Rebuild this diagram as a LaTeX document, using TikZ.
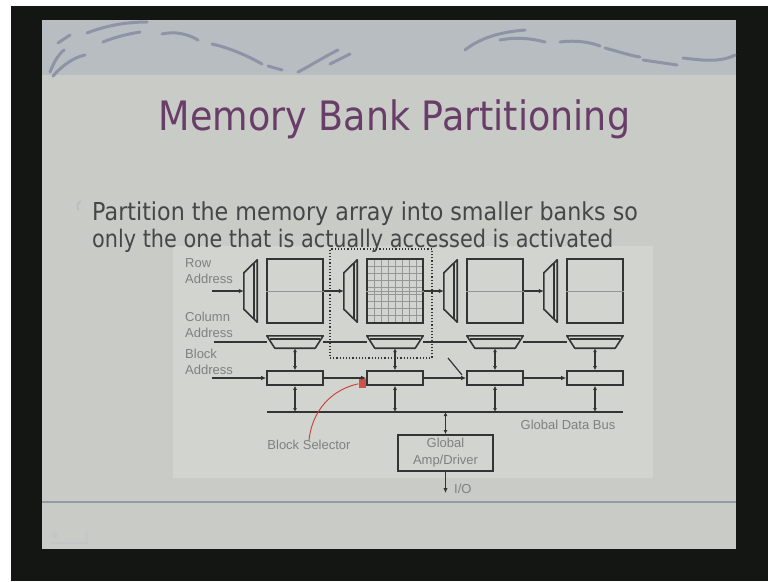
\documentclass[tikz,border=0pt]{standalone}
\usepackage{fontspec}
\setmainfont[FakeStretch=0.9]{DejaVu Sans}
\newfontfamily\narrowbody[FakeStretch=0.86]{DejaVu Sans}
\newfontfamily\labelfont{Liberation Sans}
\usetikzlibrary{arrows.meta, positioning}

\definecolor{framec}{RGB}{20,22,20}
\definecolor{slidec}{RGB}{201,203,199}
\definecolor{headc}{RGB}{184,189,194}
\definecolor{swirlc}{RGB}{142,148,166}
\definecolor{titlec}{RGB}{104,62,104}
\definecolor{bodyc}{RGB}{70,70,70}
\definecolor{linec}{RGB}{52,52,52}
\definecolor{labelc}{RGB}{128,128,128}
\definecolor{panelc}{RGB}{210,212,208}
\definecolor{gridc}{RGB}{150,150,150}
\definecolor{pointc}{RGB}{205,60,50}
\definecolor{rulec}{RGB}{148,153,172}

\begin{document}
\begin{tikzpicture}[x=1pt, y=-1pt,
  memarray/.style={rectangle, draw=linec, line width=2.2pt, minimum width=56pt, minimum height=64pt, inner sep=0pt},
  decframe/.style={rectangle, inner sep=0pt},
  decline/.style={draw=linec, line width=1.6pt, line join=round},
  selbox/.style={rectangle, draw=linec, line width=1.6pt, minimum width=56pt, minimum height=14pt, inner sep=0pt},
  ampbox/.style={rectangle, draw=linec, line width=1.8pt, minimum width=95pt, minimum height=36pt, align=center, font=\labelfont\fontsize{13}{17}\selectfont, text=labelc},
  sig/.style={draw=linec, line width=1.8pt},
  sigarrow/.style={sig, -{Latex[length=5pt,width=4.5pt]}},
  link/.style={draw=linec, line width=1.5pt, {Latex[length=4pt,width=4pt]}-{Latex[length=4pt,width=4pt]}},
  lbl/.style={font=\labelfont\fontsize{13}{16}\selectfont, text=labelc, inner sep=0pt, align=left},
  swirlstroke/.style={draw=swirlc, line width=3pt, line cap=round}
]
  \useasboundingbox (0,0) rectangle (768,581);

  % slide and the dark surround
  \fill[white] (0,0) rectangle (768,581);
  \fill[framec] (11,6) rectangle (768,581);
  \fill[slidec] (42,20) rectangle (736,549);
  \fill[headc] (42,20) rectangle (736,75);

  % header swirls
  \draw[swirlstroke] (50,72) .. controls (54,62) and (58,55) .. (64,50);
  \draw[swirlstroke] (58,43) -- (70,35);
  \draw[swirlstroke] (53,76) .. controls (62,66) and (72,58) .. (85,55);
  \draw[swirlstroke] (87,33) .. controls (105,26) and (125,22) .. (147,22);
  \draw[swirlstroke] (103,42) .. controls (115,37) and (128,34) .. (140,32);
  \draw[swirlstroke] (162,34) .. controls (175,31) and (188,34) .. (198,40);
  \draw[swirlstroke] (212,44) .. controls (230,48) and (248,56) .. (262,64);
  \draw[swirlstroke] (268,66) -- (282,70);
  \draw[swirlstroke] (298,72) .. controls (310,66) and (322,58) .. (338,50);
  \draw[swirlstroke] (330,64) -- (350,54);
  \draw[swirlstroke] (465,50) .. controls (480,38) and (500,32) .. (525,30);
  \draw[swirlstroke] (500,40) .. controls (515,37) and (530,38) .. (545,42);
  \draw[swirlstroke] (560,42) .. controls (575,40) and (590,42) .. (600,46);
  \draw[swirlstroke] (605,48) .. controls (620,52) and (632,56) .. (640,57);
  \draw[swirlstroke] (643,60) -- (677,65);
  \draw[swirlstroke] (683,58) .. controls (700,60) and (720,63) .. (735,55);

  % diagram panel
  \fill[panelc] (173,246) rectangle (653,478);

  % title and bullet
  \node[anchor=base, text=titlec, font=\fontsize{40.5}{44}\selectfont, inner sep=0pt] (title) at (394.5,130) {Memory Bank Partitioning};
  \draw[draw=gray!55, line width=1.4pt] (81,201) .. controls (77,204) .. (78,210);
  \node[anchor=base west, text=bodyc, font=\fontsize{24.7}{28}\selectfont, inner sep=0pt] (line1) at (92,220) {Partition the memory array into smaller banks so};
  \node[anchor=base west, text=bodyc, font=\narrowbody\fontsize{24.2}{28}\selectfont, inner sep=0pt] (line2) at (92,247) {only the one that is actually accessed is activated};

  % footer rule and navigation mark
  \draw[rulec, line width=2pt] (42,502) -- (736,502);
  \fill[gray!45] (55,535) circle (3.5);
  \draw[gray!45, line width=1.2pt] (50,543) -- (88,543) (87,530) -- (87,543);

  % selected bank
  \node[rectangle, draw=linec, dotted, line width=1.2pt, minimum width=102pt, minimum height=109pt] (sel) at (381,303.5) {};

  % banks: arrays, row and column decoders, block selectors
  \foreach \i in {0,...,3} {
    \node[memarray] (arr\i) at (295+100*\i,291) {};
    \draw[gridc, line width=0.6pt] (arr\i.west) -- (arr\i.east);
    \node[decframe, minimum width=13pt, minimum height=62pt] (rd\i) at (250.5+100*\i,291) {};
    \draw[decline] (rd\i.north east) -- (rd\i.south east) -- ([yshift=13pt]rd\i.south west) -- ([yshift=-13pt]rd\i.north west) -- cycle;
    \draw[decline] ([xshift=-3.5pt,yshift=-3.5pt]rd\i.north east) -- ([xshift=-3.5pt,yshift=3.5pt]rd\i.south east);
    \node[decframe, minimum width=56pt, minimum height=12pt] (cd\i) at (295+100*\i,342) {};
    \draw[decline] (cd\i.north west) -- (cd\i.north east) -- ([xshift=-8pt]cd\i.south east) -- ([xshift=8pt]cd\i.south west) -- cycle;
    \draw[decline] ([xshift=3pt,yshift=-3pt]cd\i.north west) -- ([xshift=-3pt,yshift=-3pt]cd\i.north east);
    \node[selbox] (blk\i) at (295+100*\i,378) {};
  }

  % cell grid of the selected array
  \foreach \k in {1,...,7}
    \draw[gridc, line width=0.5pt] (367+7*\k,260) -- (367+7*\k,322);
  \foreach \k in {1,...,8}
    \draw[gridc, line width=0.5pt] (368,259+7*\k) -- (422,259+7*\k);

  % address inputs
  \coordinate (rowin) at (212,291);
  \coordinate (colin) at (214,342);
  \coordinate (blkin) at (212,378);
  \node[lbl, anchor=north west] (rowlbl) at (185,258) {Row\\Address};
  \node[lbl, anchor=north west] (collbl) at (185,312) {Column\\Address};
  \node[lbl, anchor=north west] (blklbl) at (185,349) {Block\\Address};

  \draw[sigarrow] (rowin) -- (rd0);
  \draw[sig] (colin) -- (cd0);
  \draw[sigarrow] (blkin) -- (blk0);
  \foreach \i [evaluate=\i as \j using int(\i+1)] in {0,1,2} {
    \draw[sigarrow] (arr\i) -- (rd\j);
    \draw[sig] (cd\i) -- (cd\j);
    \draw[sigarrow] (blk\i) -- (blk\j);
  }
  \draw[linec, line width=1.2pt] (448,358) -- (462,375);

  % global data bus
  \coordinate (busL) at (267,412);
  \coordinate (busR) at (623,412);
  \draw[sig, line width=2.2pt] (busL) -- (busR);
  \foreach \i in {0,...,3} {
    \draw[link] (cd\i) -- (blk\i);
    \draw[link] (blk\i) -- (blk\i |- busL);
  }
  \node[lbl] (buslbl) at (568,425) {Global Data Bus};

  % global amplifier and I/O
  \node[ampbox] (amp) at (445.5,453) {Global\\Amp/Driver};
  \draw[link] (amp |- busL) -- (amp);
  \coordinate (io) at (445.5,493);
  \draw[sigarrow, line width=1.5pt] (amp) -- (io);
  \node[lbl, anchor=west] (iolbl) at (454,489) {I/O};

  % block selector callout
  \node[rectangle, fill=pointc, minimum width=7pt, minimum height=9pt, inner sep=0pt, opacity=0.85] (mark) at (362,383) {};
  \node[lbl] (sellbl) at (309,445) {Block Selector};
  \draw[pointc, line width=0.9pt] (sellbl.north) .. controls (312,412) and (330,390) .. (mark);
\end{tikzpicture}
\end{document}
